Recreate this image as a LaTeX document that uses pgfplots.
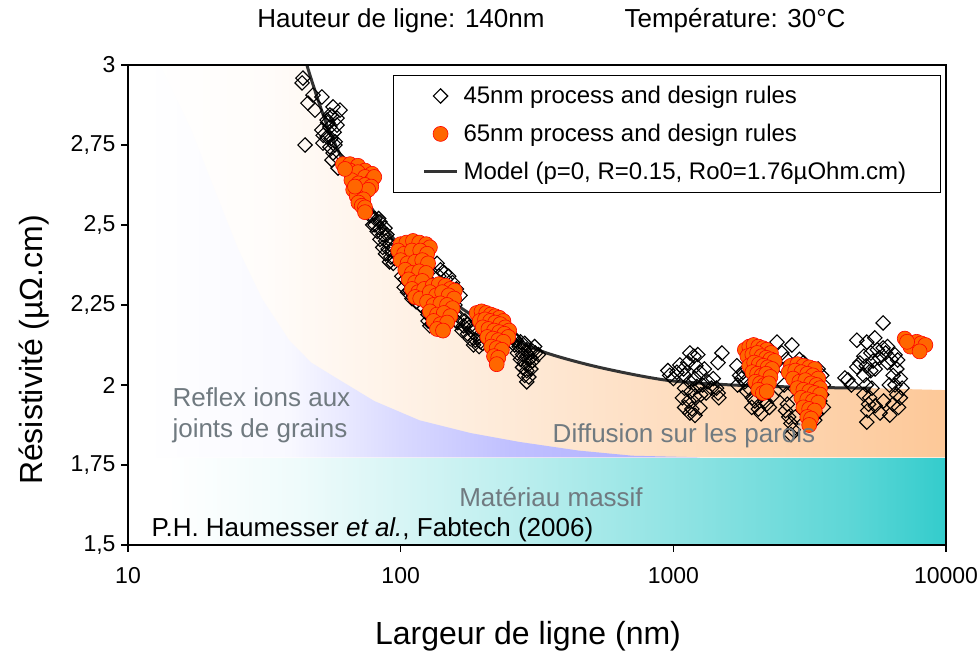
\documentclass[border=0pt]{standalone}
\usepackage{fontspec}
\setmainfont{Liberation Sans}
\usepackage{pgfplots}
\pgfplotsset{compat=1.18}
\definecolor{orng}{RGB}{253,200,152}
\definecolor{blu}{RGB}{171,171,255}
\definecolor{tealc}{RGB}{51,204,204}
\definecolor{txtgray}{RGB}{112,122,128}
\definecolor{mkorange}{RGB}{255,102,0}
\definecolor{modelgray}{RGB}{51,51,51}
\pgfdeclarehorizontalshading{blueshade}{100bp}{color(0bp)=(white); color(25bp)=(white); color(38bp)=(blu!8!white); color(48bp)=(blu!45!white); color(58bp)=(blu!75!white); color(75bp)=(blu); color(100bp)=(blu)}
\pgfdeclarehorizontalshading{orangeshade}{100bp}{color(0bp)=(white); color(25bp)=(white); color(32.5bp)=(orng!5!white); color(48.5bp)=(orng!40!white); color(75bp)=(orng); color(100bp)=(orng)}
\pgfdeclarehorizontalshading{tealshade}{100bp}{color(0bp)=(white); color(25bp)=(white); color(33.5bp)=(tealc!8!white); color(47.5bp)=(tealc!33!white); color(59bp)=(tealc!57!white); color(69bp)=(tealc!80!white); color(75bp)=(tealc); color(100bp)=(tealc)}
\begin{document}
\begin{tikzpicture}
\useasboundingbox (0,0) rectangle (980pt,655pt);
\begin{axis}[
  at={(128pt,110pt)}, anchor=south west,
  width=818pt, height=480pt, scale only axis,
  xmode=log, log basis x=10,
  xmin=10, xmax=10000, ymin=1.5, ymax=3,
  xtick={10,100,1000,10000}, xticklabels={10,100,1000,10000},
  ytick={1.5,1.75,2,2.25,2.5,2.75,3},
  xminorticks=false,
  /pgf/number format/use comma,
  /pgf/number format/assume math mode=true,
  tick align=outside, tick pos=left, major tick length=7pt,
  ticklabel style={font=\fontsize{23}{26}\selectfont},
  xticklabel style={yshift=-12pt},
  yticklabel style={xshift=-2pt},
  axis line style={line width=1.2pt},
  tick style={line width=1.2pt, black},
  axis on top,
  legend image code/.code={\draw[mark repeat=2,mark phase=2,#1] plot coordinates {(0pt,0pt)(16.5pt,0pt)(33pt,0pt)};},
  legend style={at={(0.324,0.979)}, anchor=north west, draw=black, line width=1pt, fill=white,
    font=\fontsize{24}{28}\selectfont, inner xsep=29pt, inner ysep=9pt, row sep=15pt,
    nodes={inner xsep=5pt}},
  legend cell align=left,
]
% background regions
\shade[shading=orangeshade] (11.5,3) -- (44,3) -- (45.3,3.0) -- (50.5,2.875) -- (55,2.79) -- (63,2.685) -- (80,2.54) -- (100,2.43) -- (130,2.33) -- (164,2.245) -- (250,2.15) -- (343,2.10) -- (536,2.055) -- (942,2.015) -- (1644,2.0) -- (3000,1.993) -- (5300,1.99) -- (10000,1.984) -- (10000,1.774) -- (11.5,1.774) -- cycle;
\shade[shading=blueshade] (11.5,3) -- (13.1,3.0) -- (17,2.8) -- (21,2.6) -- (25.5,2.42) -- (31,2.27) -- (39,2.14) -- (47,2.07) -- (56,2.03) -- (80,1.95) -- (117,1.89) -- (180,1.85) -- (273,1.822) -- (450,1.795) -- (708,1.779) -- (1250,1.774) -- (11.5,1.774) -- cycle;
\shade[shading=tealshade] (14,1.5) rectangle (10000,1.769);

\addlegendimage{only marks, mark=square, mark size=5.1pt, mark options={rotate=45, draw=black, line width=1.1pt, fill=none}}
\addlegendentry{45nm process and design rules}
\addlegendimage{only marks, mark=*, mark size=7.5pt, mark options={draw=red, fill=mkorange, line width=0.6pt}}
\addlegendentry{65nm process and design rules}
\addlegendimage{draw=modelgray, line width=3pt, no marks}
\addlegendentry{Model (p=0, R=0.15, Ro0=1.76µOhm.cm)}

% 45nm data
\addplot[forget plot, only marks, mark=square, mark size=5.1pt, mark options={rotate=45, draw=black, line width=1.1pt, fill=none}] coordinates {
(43.8,2.959)(43.5,2.944)(47.7,2.906)(51.4,2.900)(45.7,2.881)(48.5,2.859)(56.5,2.869)(59.9,2.859)(55.0,2.844)(53.7,2.828)(58.4,2.834)(51.4,2.797)(55.0,2.806)(58.4,2.812)(44.6,2.750)(51.9,2.756)(55.0,2.744)(57.4,2.750)(53.7,2.775)(56.5,2.725)(56.0,2.703)(58.4,2.713)(58.9,2.678)(54.0,2.820)(56.0,2.840)(57.0,2.790)(52.0,2.780)(55.5,2.770)(57.5,2.760)
(77.2,2.53)(80.5,2.52)(84,2.51)(80.5,2.50)(84,2.49)(87.6,2.49)(82,2.48)(86,2.47)(89,2.47)(84,2.455)(88,2.45)(91.4,2.44)(86,2.43)(90,2.425)(93,2.42)(88,2.41)(92,2.40)(95,2.395)(91,2.385)(94,2.38)(79,2.50)(83,2.52)
(101,2.34)(104,2.33)(107,2.32)(103,2.305)(108,2.295)(112,2.28)(106,2.29)(110,2.27)(114,2.26)(118,2.25)(122,2.24)(126,2.22)(130,2.21)(136,2.38)(140,2.36)(145,2.35)(150,2.34)(138,2.34)(146,2.33)(155,2.32)(143,2.31)(160,2.30)(165,2.28)(150,2.26)(158,2.25)(126,2.20)(128,2.185)(131,2.19)
(158,2.22)(165,2.21)(172,2.20)(162,2.195)(170,2.185)(178,2.18)(186,2.175)(168,2.17)(176,2.16)(184,2.165)(192,2.15)(180,2.145)(188,2.14)(196,2.135)(200,2.13)(185,2.125)(194,2.12)(175,2.19)(160,2.20)
(258,2.15)(265,2.14)(275,2.135)(285,2.13)(262,2.125)(272,2.12)(282,2.115)(295,2.11)(305,2.105)(268,2.10)(280,2.095)(290,2.09)(300,2.085)(312,2.10)(320,2.095)(275,2.08)(285,2.07)(295,2.065)(305,2.075)(280,2.055)(290,2.045)(300,2.05)(285,2.03)(295,2.025)(290,2.01)(262,2.14)(310,2.12)
(955,2.045)(1057,2.0625)(970,2.03)(1000,2.02)(1030,2.04)(1090,2.05)(1150,2.10)(1190,2.09)(1230,2.095)(1508,2.10)(1458,2.07)(1440,1.99)(1470,1.96)(1460,1.975)(1100,2.03)(1150,2.01)(1200,2.02)(1250,2.04)(1300,2.05)(1100,1.99)(1160,1.98)(1220,1.995)(1280,2.00)(1340,2.01)(1080,1.96)(1140,1.95)(1200,1.965)(1260,1.97)(1320,1.975)(1100,1.93)(1170,1.925)(1252,1.928)(1150,1.9125)(1200,1.905)(1210,2.06)(1130,2.07)(1400,2.02)(1380,1.99)
(1710,2.06)(1750,2.03)(1720,2.00)(1800,2.04)(1830,2.01)(1860,1.98)(1900,1.99)(1950,1.96)(1990,1.95)(2000,2.00)(2100,1.97)(2170,1.95)(2200,1.94)(2250,1.93)(2300,1.965)(2400,2.134)(2723,2.125)(2500,2.10)(2600,2.08)(2560,2.05)(1780,2.02)(1940,1.93)(2050,1.925)(2100,1.91)
(2550,2.00)(2600,1.97)(2620,1.94)(2580,1.92)(2650,1.90)(2700,1.88)(2750,1.86)(2700,1.845)(3400,2.05)(3500,2.03)(3550,2.00)(3500,1.97)(3450,1.95)(3550,1.93)(2900,2.08)(3000,2.07)(3350,1.91)(3300,1.89)(2800,1.90)
(5880,2.194)(4710,2.14)(5125,2.134)(5480,2.147)(5880,2.116)(6500,2.094)(6650,2.078)(4260,2.022)(4370,2.016)(4710,2.056)(4830,2.069)(5000,2.09)(5300,2.10)(5600,2.11)(6000,2.10)(6300,2.08)(5100,2.06)(5400,2.075)(5700,2.085)(6100,2.07)(6600,2.05)(5000,2.03)(5300,2.045)(6400,2.03)(6800,2.02)(5100,2.00)(5350,1.99)(6500,2.00)(6900,1.99)(5000,1.97)(5250,1.96)(6600,1.97)(6800,1.96)(5200,1.94)(5500,1.935)(6400,1.94)(6700,1.93)(5125,1.884)(5730,1.9125)(6220,1.906)(5160,1.92)(5900,1.95)(4500,2.00)(6100,2.12)(5500,2.05)(6200,2.00)
};

% model
\addplot[forget plot, draw=modelgray, line width=3pt, smooth, no marks] coordinates {
(42.5,3.1)(45.3,3.0)(50.5,2.875)(55,2.79)(63,2.685)(80,2.54)(100,2.43)(130,2.33)(164,2.245)(250,2.15)(343,2.10)(536,2.055)(942,2.015)(1644,2.0)(3000,1.993)(5300,1.99)
};

% 65nm data
\addplot[forget plot, only marks, mark=*, mark size=7.5pt, mark options={draw=red, fill=mkorange, line width=0.6pt}] coordinates {
(61.4,2.69)(65.2,2.69)(69.7,2.685)(74,2.67)(78.5,2.66)(65.2,2.67)(69.7,2.665)(74,2.65)(78.5,2.64)(80,2.65)(66,2.64)(70,2.63)(74,2.625)(78,2.62)(67,2.61)(72,2.60)(76,2.61)(69,2.59)(73,2.58)(70,2.57)(72,2.56)(74,2.555)(68,2.62)(62.5,2.675)(74,2.54)
(100,2.44)(105,2.445)(111,2.45)(117,2.445)(124,2.44)(128,2.43)(98,2.42)(103,2.41)(110,2.42)(118,2.42)(125,2.41)(100,2.39)(106,2.38)(113,2.385)(120,2.39)(126,2.38)(104,2.36)(110,2.35)(117,2.355)(124,2.35)(107,2.33)(113,2.32)(120,2.325)(110,2.30)(116,2.29)(122,2.30)(113,2.275)(118,2.27)
(131,2.31)(138,2.315)(146,2.31)(152,2.30)(158,2.295)(128,2.29)(135,2.28)(142,2.29)(150,2.28)(157,2.27)(125,2.26)(132,2.25)(140,2.255)(148,2.25)(155,2.24)(128,2.23)(136,2.22)(144,2.225)(152,2.215)(132,2.20)(140,2.19)(148,2.195)(136,2.175)(143,2.17)
(190,2.225)(198,2.23)(206,2.225)(214,2.22)(222,2.215)(230,2.21)(238,2.20)(195,2.20)(204,2.205)(213,2.20)(222,2.195)(232,2.19)(242,2.18)(250,2.17)(200,2.18)(210,2.175)(220,2.17)(230,2.165)(240,2.16)(248,2.15)(208,2.15)(218,2.145)(228,2.14)(238,2.135)(215,2.12)(225,2.115)(235,2.11)(220,2.09)(228,2.085)(225,2.065)
(1830,2.11)(1900,2.12)(1970,2.125)(2050,2.12)(2130,2.115)(2200,2.11)(2280,2.10)(1870,2.09)(1950,2.095)(2030,2.10)(2110,2.09)(2190,2.085)(2270,2.08)(2350,2.075)(1900,2.06)(1980,2.07)(2060,2.065)(2140,2.06)(2220,2.055)(2300,2.05)(1950,2.04)(2030,2.035)(2110,2.03)(2190,2.035)(2270,2.025)(2000,2.01)(2080,2.005)(2160,2.00)(2240,2.005)(2050,1.985)(2130,1.975)(2200,1.98)
(2700,2.06)(2850,2.065)(3000,2.06)(3150,2.055)(3300,2.05)(2650,2.04)(2800,2.045)(2950,2.04)(3100,2.035)(3250,2.03)(3400,2.02)(2750,2.02)(2900,2.01)(3050,2.015)(3200,2.005)(3350,2.00)(3450,1.99)(2850,1.99)(3000,1.985)(3150,1.98)(3300,1.975)(3450,1.97)(2950,1.96)(3100,1.955)(3250,1.95)(3400,1.945)(3000,1.93)(3150,1.925)(3300,1.92)(3100,1.90)(3200,1.895)(3150,1.875)
(7060,2.145)(7400,2.12)(7800,2.135)(8100,2.13)(8400,2.125)(8000,2.105)(7200,2.135)
};
\end{axis}
\node[anchor=base, font=\fontsize{26}{30}\selectfont] at (401pt,627pt) {Hauteur de ligne: 140nm};
\node[anchor=base, font=\fontsize{26}{30}\selectfont] at (735pt,627pt) {Température: 30°C};
\node[anchor=base west, text=txtgray, font=\fontsize{26}{30}\selectfont] at (169pt,248pt) {Reflex ions aux};
\node[anchor=base west, text=txtgray, font=\fontsize{26}{30}\selectfont] at (169pt,217pt) {joints de grains};
\node[anchor=base, text=txtgray, font=\fontsize{26}{30}\selectfont] at (684pt,212pt) {Diffusion sur les parois};
\node[anchor=base, text=txtgray, font=\fontsize{26}{30}\selectfont] at (551pt,148pt) {Matériau massif};
\node[anchor=base west, font=\fontsize{26}{30}\selectfont] at (148pt,118pt) {P.H. Haumesser \textit{et al.}, Fabtech (2006)};
\node[anchor=base, font=\fontsize{32}{36}\selectfont] at (528pt,10pt) {Largeur de ligne (nm)};
\node[anchor=base, rotate=90, font=\fontsize{32}{36}\selectfont] at (42pt,305pt) {Résistivité (µΩ.cm)};
\end{tikzpicture}
\end{document}
